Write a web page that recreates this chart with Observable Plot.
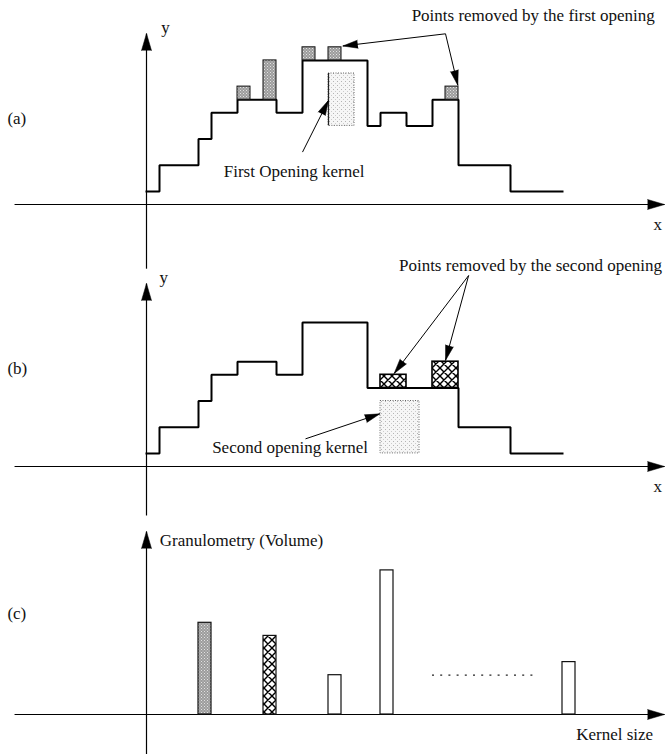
<!DOCTYPE html>
<html>
<head>
<meta charset="utf-8">
<script src="https://cdn.jsdelivr.net/npm/d3@7"></script>
<script src="https://cdn.jsdelivr.net/npm/@observablehq/plot@0.6"></script>
<style>
  html, body { margin: 0; padding: 0; background: #fff; }
  #chart { width: 665px; }
  #chart svg { display: block; }
</style>
</head>
<body>
<!-- fill patterns shared by the three panels -->
<svg width="0" height="0" style="position:absolute">
  <defs>
    <pattern id="removed" width="3" height="3" patternUnits="userSpaceOnUse">
      <rect width="3" height="3" fill="#9c9c9c"/>
      <rect x="0" y="0" width="1" height="1" fill="#e2e2e2"/>
      <rect x="1.5" y="1.5" width="1" height="1" fill="#d4d4d4"/>
    </pattern>
    <pattern id="kernel" width="4" height="4" patternUnits="userSpaceOnUse">
      <rect width="4" height="4" fill="#f6f6f6"/>
      <rect x="1" y="1" width="1" height="1" fill="#b4b4b4"/>
      <rect x="3" y="3" width="1" height="1" fill="#cccccc"/>
    </pattern>
    <pattern id="hatch" width="8" height="8" patternUnits="userSpaceOnUse">
      <rect width="8" height="8" fill="#fff"/>
      <path d="M0,0L8,8M8,0L0,8M-1,7L1,9M7,-1L9,1" stroke="#000" stroke-width="1.4"/>
    </pattern>
  </defs>
</svg>
<div id="chart"></div>
<script>
// ---------- data: x in grid cells, y in grey levels ----------
// (a) signal after the first opening, as step edges and the level on each step
const edgesA  = [0, 1, 4, 5, 7, 10, 12, 17, 18, 20, 22, 24, 28, 32];
const levelsA = [1, 3, 5, 7, 8, 7, 11, 6, 7, 6, 8, 3, 1];
// peaks removed by the first opening
const removedA = [
  {x1: 7,  x2: 8,  y1: 8,  y2: 9},
  {x1: 9,  x2: 10, y1: 8,  y2: 11},
  {x1: 12, x2: 13, y1: 11, y2: 12},
  {x1: 14, x2: 15, y1: 11, y2: 12},
  {x1: 23, x2: 24, y1: 8,  y2: 9}
];
const kernelA = [{x1: 14, x2: 16, y1: 6, y2: 10}];

// (b) signal after the second opening
const edgesB  = [0, 1, 4, 5, 7, 10, 12, 17, 24, 28, 32];
const levelsB = [1, 3, 5, 7, 8, 7, 11, 6, 3, 1];
const removedB = [
  {x1: 18, x2: 20, y1: 6, y2: 7},
  {x1: 22, x2: 24, y1: 6, y2: 8}
];
const kernelB = [{x1: 18, x2: 21, y1: 1, y2: 5}];

// (c) granulometry: removed volume for each kernel size
const kernelSizes = [4, 9, 14, 18, 32];
const volumes     = [7, 6, 3, 11, 4];
const barStyles   = ["url(#removed)", "url(#hatch)", "#fff", "#fff", "#fff"];
const ellipsis    = [{x1: 22, x2: 30, y: 3}];

// ---------- layout ----------
const PX = 13, PY = 13.1;   // pixels per grid cell
const X0 = 146;             // pixel column of the vertical axes
const AXIS_LEFT = -10.15, AXIS_RIGHT = 39.85;
const serif = "'Liberation Serif', 'Times New Roman', serif";

const toSteps = (edges, levels) =>
  edges.map((x, i) => ({x, y: levels[Math.min(i, levels.length - 1)]}));

function panel(height, base, marks) {
  return Plot.plot({
    width: 665, height, margin: 0,
    x: {type: "linear", domain: [-12, 41], range: [X0 - 12 * PX, X0 + 41 * PX], axis: null},
    y: {type: "linear", domain: [-10, 20], range: [base + 10 * PY, base - 20 * PY], axis: null},
    color: {type: "identity"},
    style: {background: "#fff", overflow: "visible"},
    marks
  });
}

// filled arrowheads at (x2, y2), pointing along the segment
const heading = d => Math.atan2((d.x2 - d.x1) * PX, (d.y2 - d.y1) * PY) * 180 / Math.PI;
function arrows(list, len = 15, half = 4, width = 1) {
  return [
    Plot.link(list, {x1: "x1", y1: "y1", x2: "x2", y2: "y2", stroke: "#000", strokeWidth: width}),
    Plot.vector(list, {x: "x2", y: "y2", rotate: heading, length: len, r: half,
      shape: "spike", anchor: "end", fill: "#000", stroke: "#000", strokeWidth: 0.5})
  ];
}

function axes(yTop, yBottom) {
  return [
    ...arrows([{x1: AXIS_LEFT, y1: 0, x2: AXIS_RIGHT, y2: 0}], 17, 5, 1.2),
    ...arrows([{x1: 0, y1: yBottom, x2: 0, y2: yTop}], 17, 5, 1.2)
  ];
}

function labels(list, anchor = "start", size = 17) {
  return Plot.text(list, {x: "x", y: "y", text: "text", fontFamily: serif, fontSize: size,
    fill: "#111", textAnchor: anchor, lineAnchor: "middle"});
}

const stepLine = pts => Plot.line(pts, {x: "x", y: "y", curve: "step-after",
  stroke: "#000", strokeWidth: 2, strokeLinejoin: "miter", strokeLinecap: "square"});

const kernelRect = data => Plot.rect(data, {x1: "x1", x2: "x2", y1: "y1", y2: "y2",
  fill: "url(#kernel)", stroke: "#666", strokeWidth: 1, strokeDasharray: "1,1.5"});

// ---------- (a) ----------
const a = panel(272, 204, [
  ...axes(13.05, -4.9),
  kernelRect(kernelA),
  Plot.ruleX(kernelA, {x: "x1", y1: "y1", y2: "y2", stroke: "#222", strokeWidth: 1.2}),
  stepLine(toSteps(edgesA, levelsA)),
  Plot.rect(removedA, {x1: "x1", x2: "x2", y1: "y1", y2: "y2",
    fill: "url(#removed)", stroke: "#111", strokeWidth: 1}),
  ...arrows([
    {x1: 12.0, y1: 4.0, x2: 14.0, y2: 7.95},
    {x1: 23.0, y1: 13.03, x2: 15.1, y2: 12.1},
    {x1: 23.0, y1: 13.03, x2: 23.95, y2: 9.1}
  ]),
  labels([
    {x: 1.13, y: 13.5, text: "y"},
    {x: -10.7, y: 6.56, text: "(a)"},
    {x: 39.0, y: -1.55, text: "x"},
    {x: 5.94, y: 2.54, text: "First Opening kernel"}
  ]),
  labels([{x: 39.1, y: 14.43, text: "Points removed by the first opening"}], "end")
]);

// ---------- (b) ----------
const b = panel(248, 194, [
  ...axes(13.97, -3.74),
  kernelRect(kernelB),
  stepLine(toSteps(edgesB, levelsB)),
  Plot.rect(removedB, {x1: "x1", x2: "x2", y1: "y1", y2: "y2",
    fill: "url(#hatch)", stroke: "#000", strokeWidth: 1.6}),
  ...arrows([
    {x1: 12.23, y1: 2.11, x2: 17.95, y2: 4.02},
    {x1: 24.78, y1: 14.58, x2: 19.05, y2: 7.1},
    {x1: 24.78, y1: 14.58, x2: 23.0, y2: 8.1}
  ]),
  labels([
    {x: 1.0, y: 14.43, text: "y"},
    {x: -10.7, y: 7.5, text: "(b)"},
    {x: 39.0, y: -1.55, text: "x"},
    {x: 5.05, y: 1.43, text: "Second opening kernel"}
  ]),
  labels([{x: 39.65, y: 15.34, text: "Points removed by the second opening"}], "end")
]);

// ---------- (c) ----------
const bars = kernelSizes.map((k, i) => ({k, v: volumes[i], style: barStyles[i]}));
const c = panel(234, 194, [
  ...axes(13.97, -3.1),
  Plot.rect(bars, {x1: "k", x2: d => d.k + 1, y1: 0, y2: "v",
    fill: "style", stroke: "#111", strokeWidth: 1.2}),
  Plot.ruleY(ellipsis, {y: "y", x1: "x1", x2: "x2", stroke: "#222",
    strokeWidth: 1.2, strokeDasharray: "2,6.2"}),
  labels([
    {x: 1.02, y: 13.28, text: "Granulometry (Volume)"},
    {x: -10.7, y: 7.71, text: "(c)"},
    {x: 33.05, y: -1.53, text: "Kernel size"}
  ])
]);

const root = document.getElementById("chart");
root.append(a, b, c);
</script>
</body>
</html>
